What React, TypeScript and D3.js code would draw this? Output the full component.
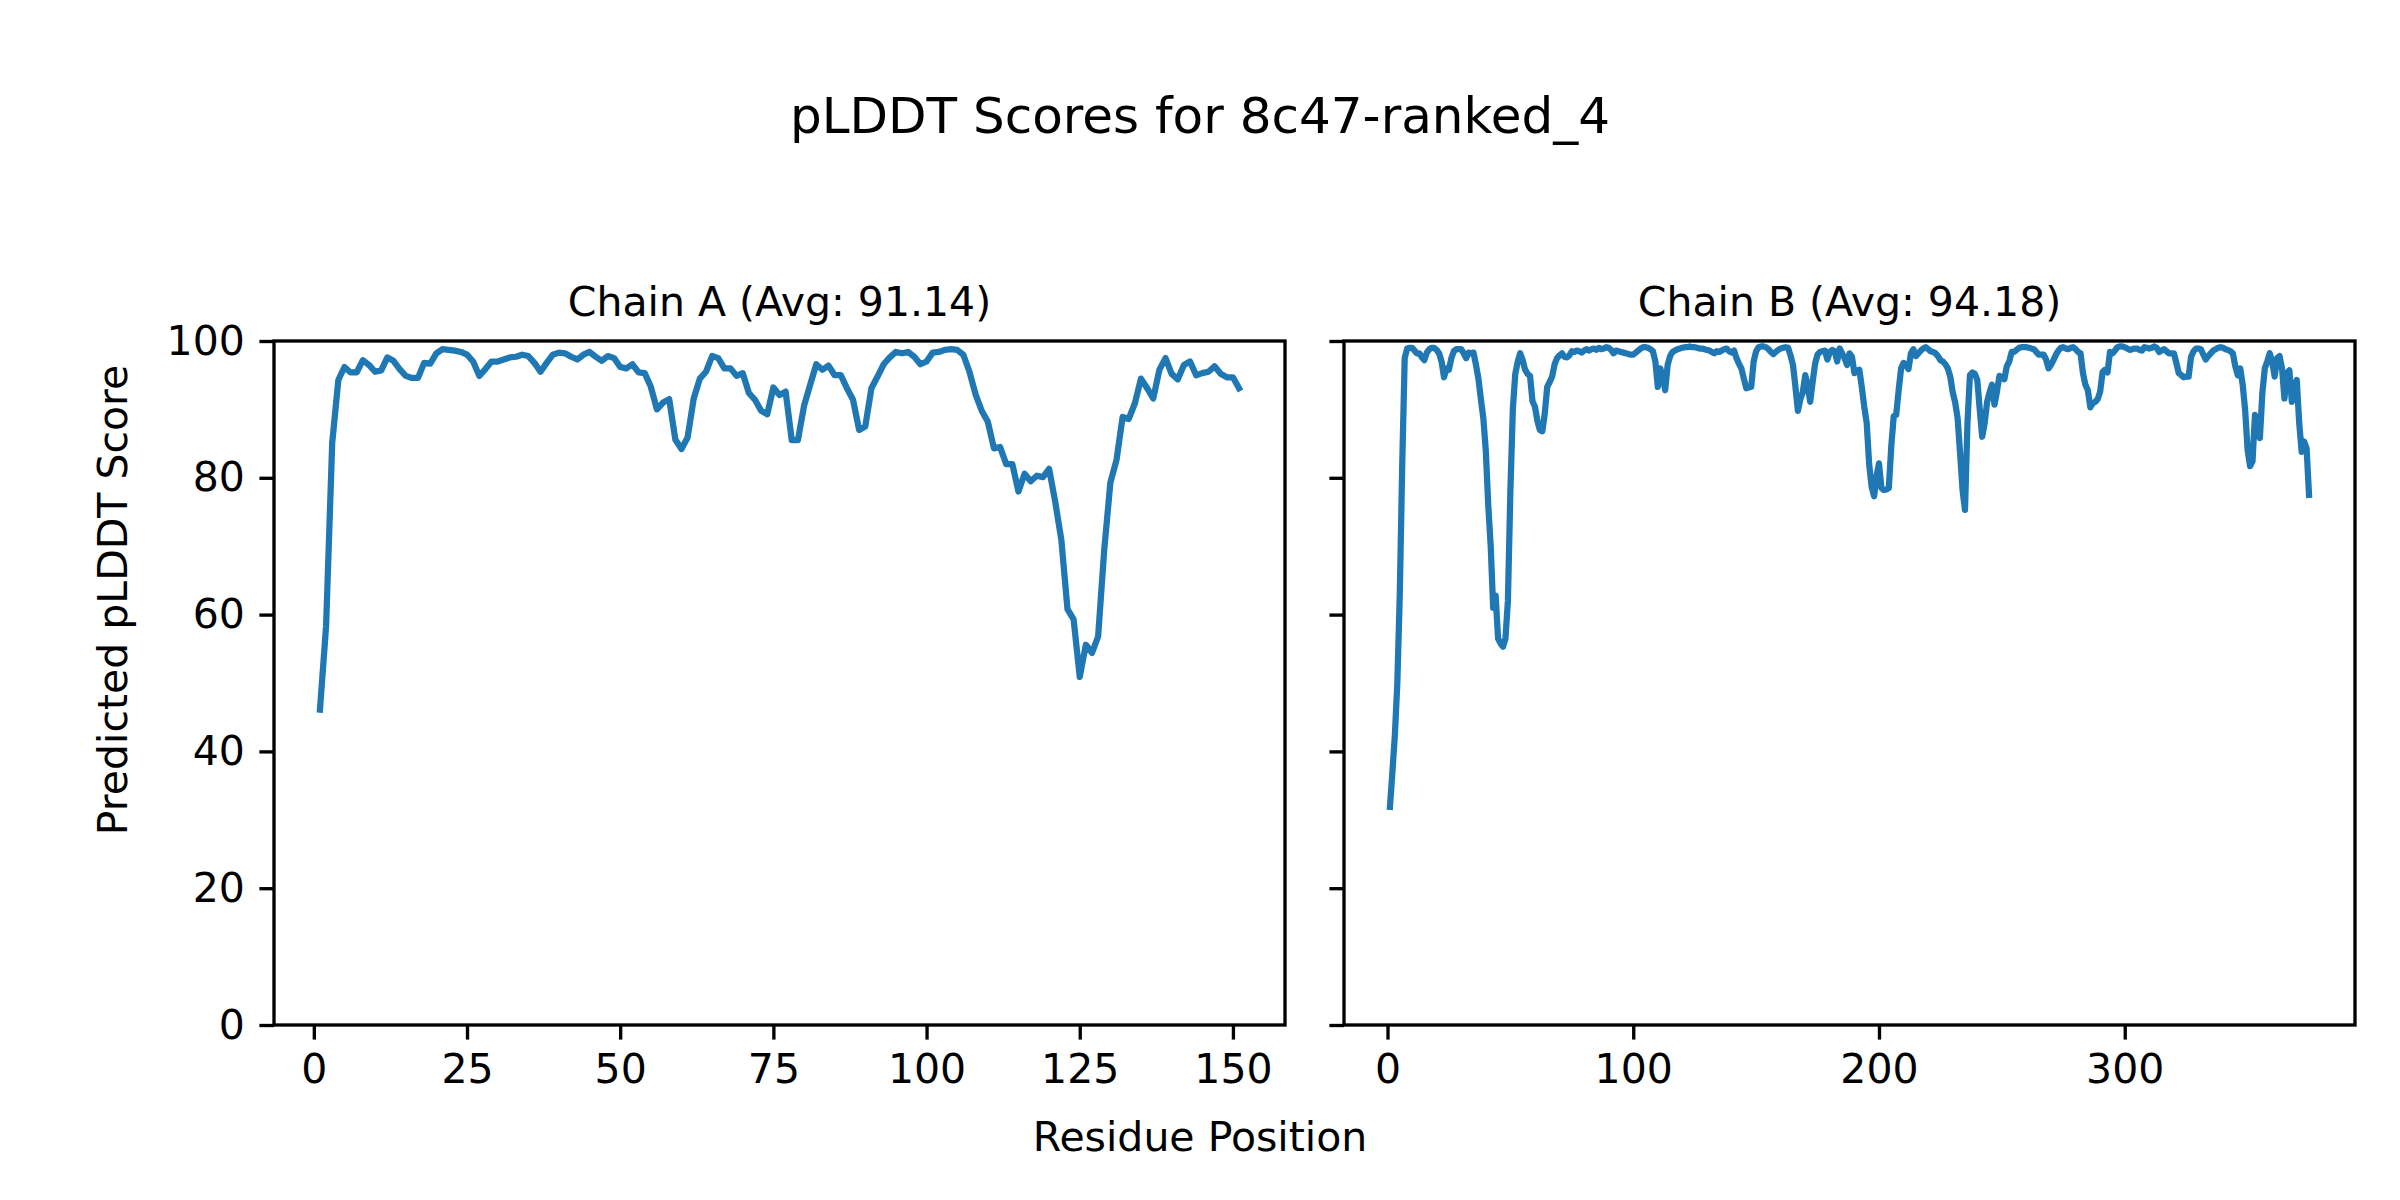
import * as d3 from 'd3';
import { useEffect, useRef } from 'react';

const W = 2400;
const H = 1200;

const chainATitle = 'Chain A (Avg: 91.14)';
const chainBTitle = 'Chain B (Avg: 94.18)';

// pLDDT per residue
const chainA: number[] = [
  46.1, 58.3, 85.1, 94.3, 96.2, 95.4, 95.4, 97.2, 96.5, 95.5,
  95.7, 97.6, 97.1, 95.9, 94.9, 94.6, 94.6, 96.8, 96.7, 98.2,
  98.8, 98.7, 98.6, 98.4, 98.0, 97.0, 94.9, 95.9, 97.0, 97.0,
  97.3, 97.6, 97.7, 98.0, 97.8, 96.8, 95.5, 96.8, 98.0, 98.3,
  98.2, 97.7, 97.3, 98.0, 98.4, 97.7, 97.1, 97.8, 97.5, 96.2,
  96.0, 96.6, 95.4, 95.3, 93.3, 90.0, 91.0, 91.5, 85.6, 84.2,
  85.9, 91.6, 94.5, 95.5, 97.8, 97.5, 96.0, 96.0, 94.9, 95.3,
  92.4, 91.4, 89.8, 89.3, 93.2, 92.1, 92.6, 85.5, 85.5, 90.5,
  93.6, 96.6, 95.8, 96.4, 95.0, 95.0, 93.1, 91.4, 87.0, 87.5,
  93.1, 94.8, 96.6, 97.6, 98.4, 98.2, 98.4, 97.7, 96.6, 97.0,
  98.3, 98.4, 98.7, 98.8, 98.7, 98.0, 95.5, 92.2, 89.8, 88.2,
  84.3, 84.5, 82.0, 82.0, 78.0, 80.6, 79.5, 80.3, 80.1, 81.3,
  76.5, 70.9, 60.8, 59.3, 50.9, 55.6, 54.4, 56.8, 69.5, 79.3,
  82.6, 88.9, 88.6, 90.9, 94.5, 93.1, 91.6, 95.8, 97.5, 95.2,
  94.4, 96.5, 97.0, 95.0, 95.3, 95.5, 96.3, 95.2, 94.7, 94.7,
  93.1,
];

const chainB: number[] = [
  31.9, 37.0, 42.4, 50.0, 63.0, 82.0, 97.5, 98.9, 99.0, 99.0,
  98.6, 98.2, 98.2, 97.6, 97.2, 98.3, 98.8, 99.0, 99.0, 98.7,
  98.2, 97.0, 94.7, 96.0, 95.8, 97.5, 98.5, 98.8, 98.8, 98.8,
  98.2, 97.5, 98.3, 98.2, 98.3, 96.5, 94.5, 91.5, 88.7, 84.0,
  76.0, 70.0, 61.0, 62.8, 56.5, 55.8, 55.3, 56.5, 62.0, 78.0,
  90.0, 95.2, 97.0, 98.2, 97.2, 95.8, 95.2, 94.9, 91.2, 90.4,
  88.3, 87.0, 86.8, 89.4, 93.3, 94.0, 94.8, 96.6, 97.5, 97.9,
  98.2, 97.7, 97.6, 97.9, 98.5, 98.4, 98.6, 98.5, 98.3, 98.6,
  98.8, 98.6, 98.8, 98.9, 98.7, 99.0, 98.8, 98.9, 99.1, 99.0,
  98.7, 98.2, 98.6, 98.5, 98.4, 98.3, 98.2, 98.1, 98.0, 98.0,
  98.3, 98.6, 98.9, 99.1, 99.1, 99.0, 98.8, 98.5, 97.0, 93.3,
  96.0, 94.8, 92.8, 96.5, 97.8, 98.4, 98.6, 98.8, 98.9, 99.0,
  99.1, 99.1, 99.2, 99.1, 99.1, 99.0, 98.9, 98.9, 98.8, 98.7,
  98.6, 98.4, 98.2, 98.5, 98.4, 98.6, 98.8, 98.9, 98.5, 98.3,
  98.6, 97.5, 96.7, 96.0, 94.5, 93.1, 93.2, 93.3, 97.0, 98.5,
  99.1, 99.2, 99.2, 99.1, 98.8, 98.4, 98.1, 98.4, 98.7, 98.9,
  99.0, 99.1, 99.0, 97.9, 96.5, 93.3, 89.8, 91.5, 92.5, 95.0,
  93.5, 91.1, 94.0, 96.7, 98.0, 98.4, 98.5, 98.6, 97.3, 98.4,
  98.7, 98.5, 97.0, 98.9, 98.2, 97.5, 96.5, 98.2, 97.7, 95.3,
  95.6, 95.8, 93.3, 90.4, 88.0, 82.0, 78.7, 77.3, 80.2, 82.1,
  78.5, 78.2, 78.3, 78.5, 84.6, 89.0, 89.2, 92.8, 96.0, 96.8,
  96.5, 95.9, 98.2, 98.8, 97.8, 98.2, 98.6, 98.9, 99.1, 98.8,
  98.5, 98.4, 98.2, 97.8, 97.2, 97.0, 96.6, 96.0, 94.8, 92.5,
  91.0, 88.7, 83.6, 78.2, 75.3, 88.0, 95.0, 95.4, 95.2, 94.3,
  90.0, 86.0, 88.0, 91.1, 92.5, 93.6, 90.7, 92.6, 94.9, 94.6,
  94.4, 96.3, 97.0, 98.4, 98.4, 98.7, 99.0, 99.1, 99.1, 99.1,
  99.0, 98.9, 98.8, 98.4, 98.0, 98.0, 98.0, 97.3, 96.0, 96.5,
  97.2, 98.0, 98.6, 99.0, 99.1, 98.9, 98.8, 99.0, 99.1, 98.8,
  98.4, 98.2, 95.3, 93.6, 92.8, 90.3, 90.9, 91.1, 91.5, 92.6,
  95.5, 95.8, 95.4, 98.4, 98.2, 98.6, 99.1, 99.2, 99.2, 99.1,
  98.9, 98.7, 98.8, 98.9, 98.9, 98.7, 98.6, 99.1, 99.0, 98.9,
  99.0, 99.2, 99.0, 98.4, 98.6, 98.8, 98.5, 98.2, 98.2, 98.2,
  96.8, 95.3, 95.0, 94.7, 94.8, 94.8, 97.7, 98.5, 98.9, 98.9,
  98.8, 98.0, 97.3, 97.8, 98.2, 98.6, 98.8, 99.0, 99.1, 99.0,
  98.8, 98.7, 98.5, 98.2, 96.3, 95.0, 96.0, 93.6, 89.9, 84.1,
  81.7, 82.4, 89.2, 87.0, 85.8, 92.4, 96.0, 97.0, 98.2, 97.0,
  94.8, 97.5, 97.8, 96.0, 91.6, 95.3, 95.7, 91.1, 93.3, 94.3,
  88.0, 83.8, 85.3, 84.3, 77.5,
];

const yTicks = [0, 20, 40, 60, 80, 100];
const xTicksA = [0, 25, 50, 75, 100, 125, 150];
const xTicksB = [0, 100, 200, 300];

const FONT = '"DejaVu Sans", sans-serif';
const TICK_LEN = 14.6;
const LW_AXIS = 3.33;

const App = () => {
  const ref = useRef<SVGSVGElement | null>(null);

  useEffect(() => {
    if (!ref.current) return;
    const svg = d3.select(ref.current);
    svg.selectAll('*').remove();

    svg.append('rect').attr('width', W).attr('height', H).attr('fill', 'white');

    const top = 341;
    const bottom = 1025;
    const y = d3.scaleLinear().domain([0, 100]).range([bottom, top]);

    const panels = [
      { title: chainATitle, data: chainA, left: 274, right: 1285, ticks: xTicksA, labels: true },
      { title: chainBTitle, data: chainB, left: 1344, right: 2355, ticks: xTicksB, labels: false },
    ];

    panels.forEach(p => {
      const n = p.data.length;
      const pad = (n - 1) * 0.05;
      const x = d3.scaleLinear().domain([1 - pad, n + pad]).range([p.left, p.right]);
      const g = svg.append('g');

      const line = d3.line<number>()
        .x((_, i) => x(i + 1))
        .y(d => y(d));

      g.append('path')
        .datum(p.data)
        .attr('d', line)
        .attr('fill', 'none')
        .attr('stroke', '#1f77b4')
        .attr('stroke-width', 6.25)
        .attr('stroke-linejoin', 'round')
        .attr('stroke-linecap', 'square');

      const xAxis = g.append('g')
        .attr('transform', `translate(0,${bottom})`)
        .call(d3.axisBottom(x).tickValues(p.ticks).tickSize(TICK_LEN).tickPadding(TICK_LEN).tickFormat(d3.format('d')));
      const yAxis = g.append('g')
        .attr('transform', `translate(${p.left},0)`)
        .call(d3.axisLeft(y).tickValues(yTicks).tickSize(TICK_LEN).tickPadding(TICK_LEN)
          .tickFormat(p.labels ? d3.format('d') : () => ''));

      [xAxis, yAxis].forEach(a => {
        a.select('.domain').remove();
        a.selectAll('line').attr('stroke', 'black').attr('stroke-width', LW_AXIS);
        a.selectAll('text')
          .attr('fill', 'black')
          .style('font-family', FONT)
          .style('font-size', '41px');
      });

      g.append('rect')
        .attr('x', p.left)
        .attr('y', top)
        .attr('width', p.right - p.left)
        .attr('height', bottom - top)
        .attr('fill', 'none')
        .attr('stroke', 'black')
        .attr('stroke-width', LW_AXIS);

      g.append('text')
        .attr('x', (p.left + p.right) / 2)
        .attr('y', 316)
        .attr('text-anchor', 'middle')
        .style('font-family', FONT)
        .style('font-size', '41px')
        .text(p.title);
    });

    svg.append('text')
      .attr('x', W / 2)
      .attr('y', 133)
      .attr('text-anchor', 'middle')
      .style('font-family', FONT)
      .style('font-size', '50px')
      .text('pLDDT Scores for 8c47-ranked_4');

    svg.append('text')
      .attr('x', W / 2)
      .attr('y', 1151)
      .attr('text-anchor', 'middle')
      .style('font-family', FONT)
      .style('font-size', '41px')
      .text('Residue Position');

    // figure-level y label, centred on the figure height
    svg.append('text')
      .attr('transform', `translate(127,${H / 2}) rotate(-90)`)
      .attr('text-anchor', 'middle')
      .style('font-family', FONT)
      .style('font-size', '41px')
      .text('Predicted pLDDT Score');
  }, []);

  return (
    <svg
      ref={ref}
      width={W}
      height={H}
      style={{ position: 'absolute', left: 0, top: 0, display: 'block' }}
    />
  );
};

export default App;
